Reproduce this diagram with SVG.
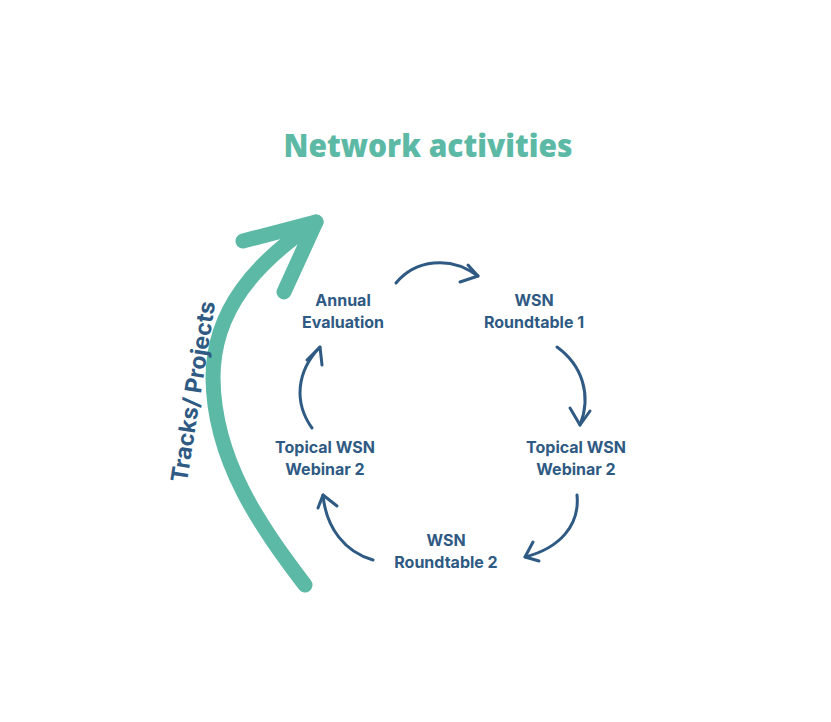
<svg xmlns="http://www.w3.org/2000/svg" width="831" height="722" viewBox="0 0 831 722">
<style>
.lbl{font-family:Inter,"Liberation Sans",sans-serif;font-weight:700;font-size:16px;fill:#2e5a83;text-anchor:middle}
.arr{fill:none;stroke:#2e5a83;stroke-width:3;stroke-linecap:round;stroke-linejoin:round}
.big{fill:none;stroke:#5cb9a5;stroke-width:15;stroke-linecap:round;stroke-linejoin:round}
</style>
<rect width="831" height="722" fill="#ffffff"/>
<text x="428" y="157" font-family="'Open Sans','Liberation Sans',sans-serif" font-weight="800" font-size="32" fill="#5cb9a5" text-anchor="middle" textLength="289" lengthAdjust="spacingAndGlyphs">Network activities</text>
<g id="tracks">
<path class="big" d="M305,585 C262,528 214,462 213,378 C213,310 256,262 316,222"/>
<path class="big" d="M243,241 L316,222 L284,292"/>
<text x="0" y="0" transform="translate(201,393) rotate(-81)" font-family="Inter,'Liberation Sans',sans-serif" font-weight="700" font-size="23" fill="#2e5a83" text-anchor="middle">Tracks/ Projects</text>
</g>
<g id="annual"><text class="lbl" x="343" y="306">Annual</text><text class="lbl" x="343" y="328">Evaluation</text></g>
<g id="rt1"><text class="lbl" x="534" y="306">WSN</text><text class="lbl" x="534" y="328">Roundtable 1</text></g>
<g id="web-r"><text class="lbl" x="576" y="453">Topical WSN</text><text class="lbl" x="576" y="475">Webinar 2</text></g>
<g id="rt2"><text class="lbl" x="446" y="546">WSN</text><text class="lbl" x="446" y="568">Roundtable 2</text></g>
<g id="web-l"><text class="lbl" x="325" y="453">Topical WSN</text><text class="lbl" x="325" y="475">Webinar 2</text></g>
<g id="connectors">
<path class="arr" d="M396,283 C415,260 450,255 478,276"/>
<path class="arr" d="M468,265 L478,276 L460,282"/>
<path class="arr" d="M557,347 C582,365 592,395 580,425"/>
<path class="arr" d="M570,408 L580,425 L590,411"/>
<path class="arr" d="M577,495 C580,525 560,548 525,557"/>
<path class="arr" d="M533,542 L525,557 L539,561"/>
<path class="arr" d="M373,560 C345,552 326,528 323,495"/>
<path class="arr" d="M318,508 L323,495 L337,506"/>
<path class="arr" d="M312,428 C294,403 296,372 320,347"/>
<path class="arr" d="M307,360 L320,347 L322,365"/>
</g>
</svg>
